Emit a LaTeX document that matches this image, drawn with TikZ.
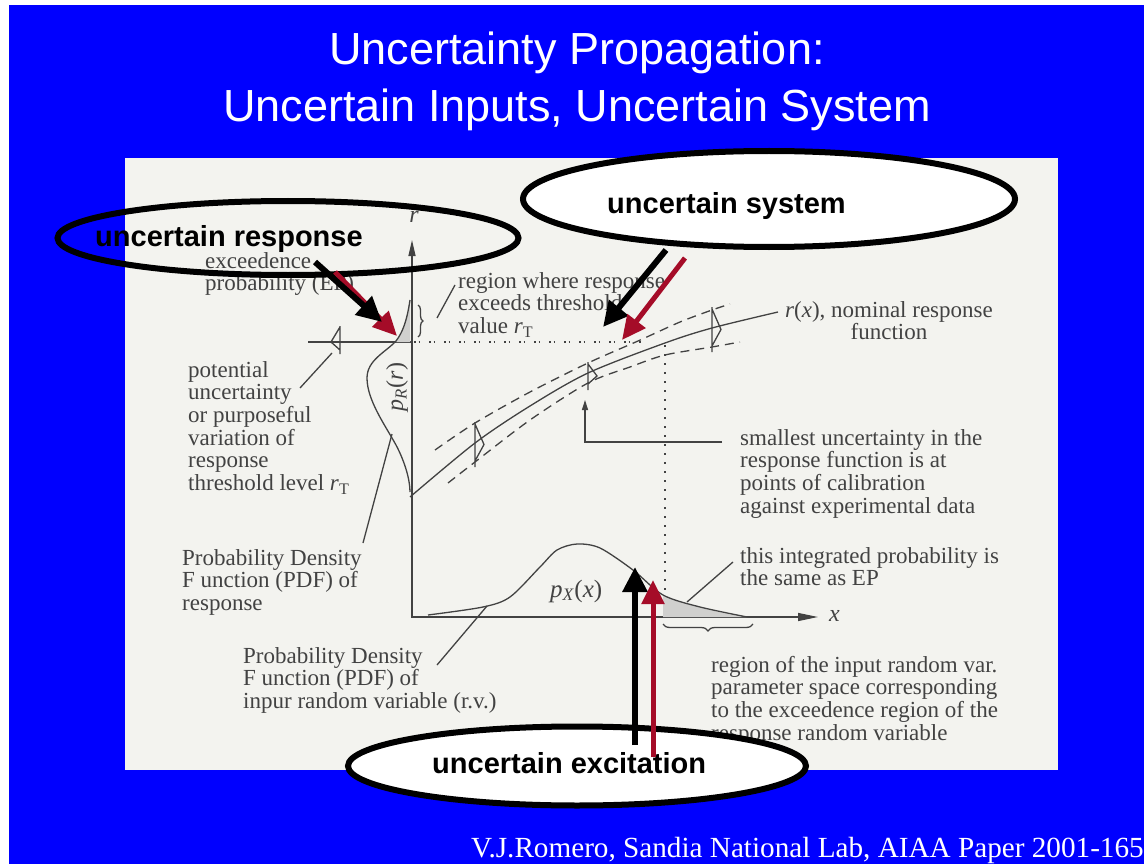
\documentclass[tikz,border=0pt]{standalone}
\usepackage{fontspec}
\setmainfont{Liberation Serif}
\setsansfont{Liberation Sans}
\usepackage{tikz}
\usetikzlibrary{arrows.meta,positioning,shapes.geometric}
\usetikzlibrary{decorations.pathreplacing}
\definecolor{slideblue}{RGB}{0,0,255}
\definecolor{paper}{RGB}{243,243,239}
\definecolor{ink}{RGB}{66,66,66}
\definecolor{tailgrey}{RGB}{208,208,206}
\definecolor{darkred}{RGB}{165,12,40}

\begin{document}
\begin{tikzpicture}[x=1pt,y=-1pt,every node/.style={inner sep=0pt},
    scan/.style={font=\fontsize{23}{22.7}\selectfont,text=ink,align=left,anchor=base west},
    inkline/.style={draw=ink,line width=1.3pt},
    band/.style={inkline,dash pattern=on 9pt off 6pt},
    callout/.style={ellipse,draw=black,line width=6pt},
    callouttext/.style={font=\sffamily\bfseries\fontsize{29}{29}\selectfont,anchor=base west},
    blackarrow/.style={draw=black,line width=6pt,-{Triangle[length=25pt,width=24pt]}},
    redarrow/.style={draw=darkred,line width=5pt,-{Triangle[length=24pt,width=22pt]}}]
        \useasboundingbox (0,0) rectangle (1144,864);
        \fill[white] (0,0) rectangle (1144,864);
        \fill[slideblue] (9,5) rectangle (1144,864);
        \fill[paper] (125,158) rectangle (1058,770);

        % multi-line nodes sit on the baseline of their last line
        \node[font=\sffamily\fontsize{45}{57}\selectfont,text=white,align=center,anchor=base] (title) at (577,122)
            {Uncertainty Propagation:\\Uncertain Inputs, Uncertain System};
        \node[font=\fontsize{29.2}{29.2}\selectfont,text=white,anchor=base west] (credit) at (471,857)
            {V.J.Romero, Sandia National Lab, AIAA Paper 2001-1653};

        % axes and threshold
        \draw[inkline,{Triangle[length=16pt,width=7pt]}-{Triangle[length=20pt,width=8pt]}] (412,240) -- (412,617) -- (818,617);
        \node[font=\itshape\fontsize{24}{24}\selectfont,text=ink] (rlab) at (414,217) {r};
        \node[font=\itshape\fontsize{24}{24}\selectfont,text=ink,anchor=base west] (xlab) at (829,621) {x};
        \draw[inkline] (308,342) -- (412,342);
        \draw[inkline,dash pattern=on 1.5pt off 3pt on 1.5pt off 9pt] (414,342) -- (642,342);
        \draw[inkline,dash pattern=on 2pt off 7pt] (665,345) -- (665,617);
        \draw[inkline] (340,326) -- (340,354) (340,327) -- (331,342) -- (340,350);

        % response pdf
        \fill[tailgrey] (410,300) .. controls (407,320) and (403,332) .. (396,342) -- (410,342) -- cycle;
        \draw[inkline] (410,300) .. controls (407,320) and (403,332) .. (396,341)
            .. controls (386,352) and (367,360) .. (367,378)
            .. controls (367,400) and (385,425) .. (396,445)
            .. controls (405,462) and (410,480) .. (410,492);
        \node[font=\fontsize{24}{24}\selectfont,text=ink,rotate=90] (pr) at (397,387)
            {\textit{p}\textsubscript{\textit{R}}(\textit{r})};
        \draw[inkline,decorate,decoration={brace,amplitude=5pt}] (418,305) -- (418,337);

        % nominal response and band
        \draw[inkline] plot[smooth] coordinates {(410,497) (475,443) (530,406) (588,373) (665,343) (712,328) (778,312)};
        \draw[band] plot[smooth] coordinates {(435,450) (475,423) (530,392) (588,363) (638,341) (680,322) (712,310) (730,304)};
        \draw[band] plot[smooth] coordinates {(448,483) (475,462) (530,420) (588,383) (630,367) (665,355) (712,347) (740,342)};
        \foreach \mx/\mt/\mb in {475/422/467,588/362/390,712/307/352}
            \draw[inkline] (\mx,\mt) -- (\mx,\mb) (\mx,\mt+2) -- (\mx+9,{(\mt+\mb)/2}) -- (\mx,\mb-6);

        % input pdf
        \fill[tailgrey] (663,617) -- (663,595) .. controls (685,604) and (715,613) .. (747,617) -- cycle;
        \draw[inkline] plot[smooth] coordinates {(428,615) (483,607) (510,597) (540,567) (557,550) (577,544) (600,548) (633,570) (663,595) (700,607) (747,617)};
        \node[font=\fontsize{25}{25}\selectfont,text=ink,anchor=base west] (px) at (550,597)
            {\textit{p}\textsubscript{\textit{X}}(\textit{x})};
        \draw[inkline,decorate,decoration={brace,amplitude=7pt}] (753,624) -- (663,624);

        % annotations
        \node[scan] (ep) at (205,290.7) {exceedence\\probability (EP)};
        \node[scan] (exceed) at (458,333.4) {region where response\\exceeds threshold\\value \textit{r}\textsubscript{T}};
        \node[scan,align=center,anchor=base] (nominal) at (889,339.7) {\textit{r}(\textit{x}), nominal response\\function};
        \node[scan] (threshold) at (188,490.5) {potential\\uncertainty\\or purposeful\\variation of\\response\\threshold level \textit{r}\textsubscript{T}};
        \node[scan] (pdfr) at (182,610.4) {Probability Density\\F unction (PDF) of\\response};
        \node[scan] (calib) at (740,513.1) {smallest uncertainty in the\\response function is at\\points of calibration\\against experimental data};
        \node[scan] (integ) at (740,585.7) {this integrated probability is\\the same as EP};
        \node[scan] (pdfx) at (243,708.4) {Probability Density\\F unction (PDF) of\\inpur random variable (r.v.)};
        \node[scan] (space) at (711,740.1) {region of the input random var.\\parameter space corresponding\\to the exceedence region of the\\response random variable};

        \coordinate (exceedA) at (437,318);
        \coordinate (exceedB) at (455,285);
        \coordinate (flagA) at (300,388);
        \coordinate (flagB) at (332,353);
        \coordinate (pdfrA) at (363,543);
        \coordinate (pdfrB) at (392,434);
        \coordinate (pdfxA) at (437,665);
        \coordinate (pdfxB) at (487,606);
        \coordinate (integA) at (733,562);
        \coordinate (integB) at (687,602);
        \coordinate (calibA) at (722,442);
        \coordinate (calibB) at (585,400);
        \draw[inkline] (exceedA) -- (exceedB);
        \draw[inkline] (flagA) -- (flagB);
        \draw[inkline] (pdfrA) -- (pdfrB);
        \draw[inkline] (pdfxA) -- (pdfxB);
        \draw[inkline] (integA) -- (integB);
        \draw[inkline,-{Triangle[length=10pt,width=6pt]}] (calibA) -| (calibB);

        % callouts
        \node[callout,minimum width=461,minimum height=74] (resp) at (288,238) {};
        \node[callout,fill=white,minimum width=492,minimum height=96] (sys) at (769,199) {};
        \node[callout,fill=white,minimum width=458,minimum height=79] (exc) at (577,766) {};
        \node[callouttext] (resptext) at (95,247) {uncertain response};
        \node[callouttext] (systext) at (607,213) {uncertain system};
        \node[callouttext] (exctext) at (432,773) {uncertain excitation};

        \coordinate (respK) at (315,262);
        \coordinate (respKtip) at (382,322);
        \coordinate (respR) at (335,272);
        \coordinate (respRtip) at (397,336);
        \coordinate (sysK) at (666,250);
        \coordinate (sysKtip) at (603,327);
        \coordinate (sysR) at (685,258);
        \coordinate (sysRtip) at (622,340);
        \coordinate (excK) at (635,745);
        \coordinate (excKtip) at (635,567);
        \coordinate (excR) at (653,757);
        \coordinate (excRtip) at (653,580);
        \draw[redarrow] (respR) -- (respRtip);
        \draw[blackarrow] (respK) -- (respKtip);
        \draw[blackarrow] (sysK) -- (sysKtip);
        \draw[redarrow] (sysR) -- (sysRtip);
        \draw[blackarrow] (excK) -- (excKtip);
        \draw[redarrow] (excR) -- (excRtip);
        % \draw[help lines] (0,0) grid[step=50] (1144,864);
    \end{tikzpicture}
\end{document}
